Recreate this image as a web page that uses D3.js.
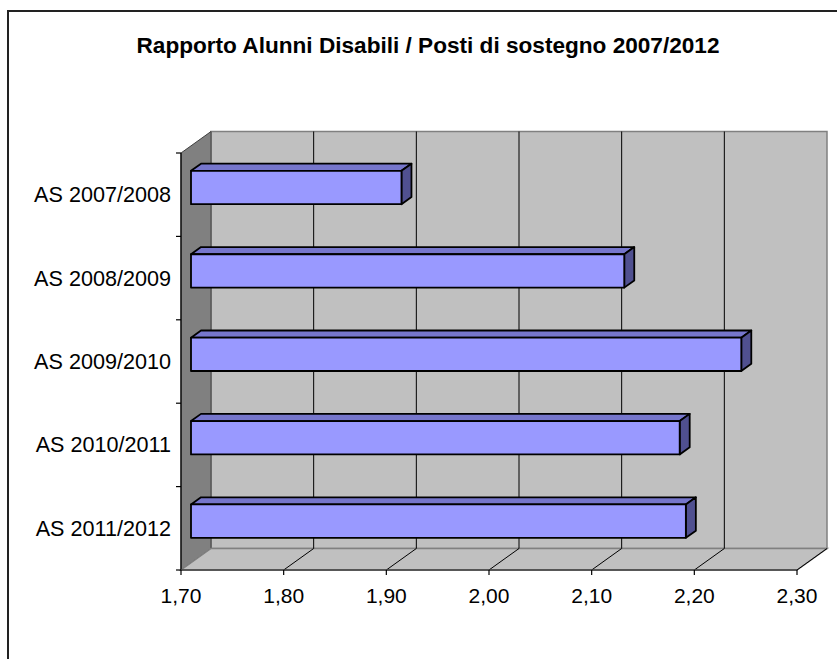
<!DOCTYPE html>
<html>
<head>
<meta charset="utf-8">
<script src="https://cdn.jsdelivr.net/npm/d3@7"></script>
<style>
  html, body { margin: 0; padding: 0; background: #fff; }
  svg { display: block; }
  text { font-family: "Liberation Sans", Arial, sans-serif; fill: #000; }
</style>
</head>
<body>
<svg id="chart" width="837" height="659"></svg>
<script>
// Rapporto alunni disabili / posti di sostegno, per anno scolastico
const categories = ["AS 2007/2008", "AS 2008/2009", "AS 2009/2010", "AS 2010/2011", "AS 2011/2012"];
const ratios = [1.905, 2.122, 2.236, 2.176, 2.182];
const tickValues = [1.70, 1.80, 1.90, 2.00, 2.10, 2.20, 2.30];
const tickLabels = ["1,70", "1,80", "1,90", "2,00", "2,10", "2,20", "2,30"];
const title = "Rapporto Alunni Disabili / Posti di sostegno 2007/2012";

const svg = d3.select("#chart");

// front plane of the 3D plot box
const front = { left: 181, right: 797, top: 153, bottom: 570 };
// depth offset of the back wall
const depth = { dx: 30, dy: -21.5 };
// bars sit between 1/3 and 2/3 of the box depth
const barDepth = [1 / 3, 2 / 3];

const x = d3.scaleLinear().domain([1.70, 2.30]).range([front.left, front.right]);
const y = d3.scaleBand().domain(categories)
  .range([front.top, front.bottom])
  .paddingInner(0.6).paddingOuter(0.3);
const yBand = d3.scaleBand().domain(categories).range([front.top, front.bottom]);

const P = (px, py, f) => [px + depth.dx * f, py + depth.dy * f];
const poly = pts => pts.map(p => p.join(",")).join(" ");

// outer frame
svg.append("rect")
  .attr("x", 8).attr("y", 11).attr("width", 900).attr("height", 700)
  .attr("fill", "#fff").attr("stroke", "#222").attr("stroke-width", 2);

// title
svg.append("text")
  .attr("x", 428).attr("y", 53)
  .attr("text-anchor", "middle")
  .style("font-weight", "bold").style("font-size", "22.6px")
  .text(title);

// back wall
svg.append("polygon")
  .attr("points", poly([
    P(front.left, front.top, 1), P(front.right, front.top, 1),
    P(front.right, front.bottom, 1), P(front.left, front.bottom, 1)]))
  .attr("fill", "#c0c0c0").attr("stroke", "#808080").attr("stroke-width", 1.5);

// left side wall
svg.append("polygon")
  .attr("points", poly([
    P(front.left, front.top, 0), P(front.left, front.top, 1),
    P(front.left, front.bottom, 1), P(front.left, front.bottom, 0)]))
  .attr("fill", "#808080").attr("stroke", "#404040").attr("stroke-width", 1);

// floor
svg.append("polygon")
  .attr("points", poly([
    P(front.left, front.bottom, 0), P(front.left, front.bottom, 1),
    P(front.right, front.bottom, 1), P(front.right, front.bottom, 0)]))
  .attr("fill", "#c0c0c0").attr("stroke", "#808080").attr("stroke-width", 1.5);

// gridlines on back wall and floor
const grid = svg.append("g").attr("stroke", "#000").attr("stroke-width", 1);
tickValues.slice(1, -1).forEach(t => {
  const a = P(x(t), front.top, 1), b = P(x(t), front.bottom, 1), c = P(x(t), front.bottom, 0);
  grid.append("line").attr("x1", a[0]).attr("y1", a[1]).attr("x2", b[0]).attr("y2", b[1]);
  grid.append("line").attr("x1", b[0]).attr("y1", b[1]).attr("x2", c[0]).attr("y2", c[1]);
});
{
  const b = P(x(2.30), front.bottom, 1), c = P(x(2.30), front.bottom, 0);
  grid.append("line").attr("x1", b[0]).attr("y1", b[1]).attr("x2", c[0]).attr("y2", c[1]);
}

// axes lines
const axes = svg.append("g").attr("stroke", "#000").attr("stroke-width", 1.2);
axes.append("line").attr("x1", front.left).attr("y1", front.top).attr("x2", front.left).attr("y2", front.bottom);
axes.append("line").attr("x1", front.left).attr("y1", front.bottom).attr("x2", front.right).attr("y2", front.bottom)
  .attr("stroke", "#404040").attr("stroke-width", 1.5);

// category ticks at band boundaries
categories.forEach(c => {
  axes.append("line").attr("x1", front.left - 5).attr("x2", front.left)
    .attr("y1", yBand(c)).attr("y2", yBand(c));
});
axes.append("line").attr("x1", front.left - 5).attr("x2", front.left)
  .attr("y1", front.bottom).attr("y2", front.bottom);

// value ticks and labels
tickValues.forEach((t, i) => {
  axes.append("line").attr("x1", x(t)).attr("x2", x(t))
    .attr("y1", front.bottom).attr("y2", front.bottom + 5);
  svg.append("text")
    .attr("x", x(t)).attr("y", 603)
    .attr("text-anchor", "middle").style("font-size", "21px")
    .text(tickLabels[i]);
});

// category labels
categories.forEach(c => {
  svg.append("text")
    .attr("x", 171).attr("y", yBand(c) + yBand.bandwidth() / 2 + 7.5)
    .attr("text-anchor", "end").style("font-size", "21.6px")
    .text(c);
});

// 3D bars
const bars = svg.append("g").attr("stroke", "#000").attr("stroke-width", 1.8).attr("stroke-linejoin", "round");
categories.forEach((c, i) => {
  const x0 = x(1.70), x1 = x(ratios[i]);
  const y0 = y(c), y1 = y(c) + y.bandwidth();
  const [f0, f1] = barDepth;
  const g = bars.append("g");
  // top face
  g.append("polygon").attr("fill", "#7676cc")
    .attr("points", poly([P(x0, y0, f0), P(x0, y0, f1), P(x1, y0, f1), P(x1, y0, f0)]));
  // right face
  g.append("polygon").attr("fill", "#505090")
    .attr("points", poly([P(x1, y0, f0), P(x1, y0, f1), P(x1, y1, f1), P(x1, y1, f0)]));
  // front face
  g.append("polygon").attr("fill", "#9999ff")
    .attr("points", poly([P(x0, y0, f0), P(x1, y0, f0), P(x1, y1, f0), P(x0, y1, f0)]));
});
</script>
</body>
</html>
